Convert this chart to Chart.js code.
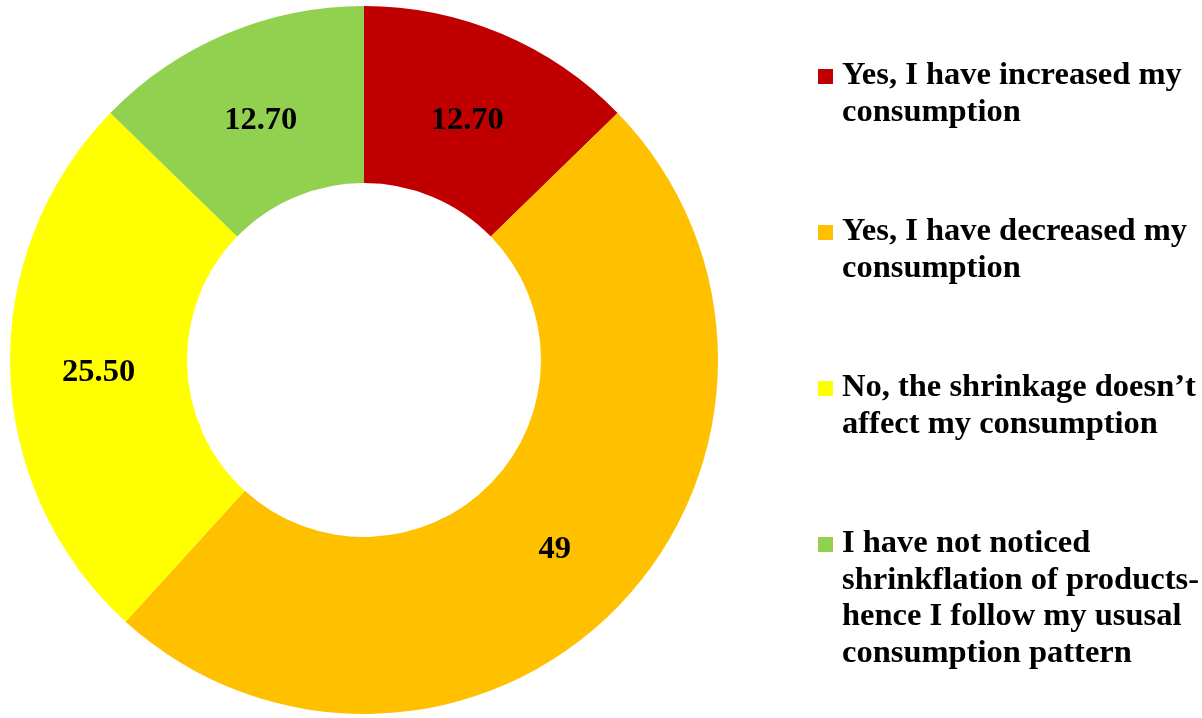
<!DOCTYPE html>
<html>
<head>
<meta charset="utf-8">
<script src="https://cdn.jsdelivr.net/npm/chart.js@4/dist/chart.umd.min.js"></script>
<style>
  html, body { margin: 0; padding: 0; background: #fff; }
  #wrap { width: 1202px; height: 718px; }
</style>
</head>
<body>
<div id="wrap"><canvas id="grafico"></canvas></div>
<script>
// datos del gráfico
const categorias = [
    ['Yes, I have increased my', 'consumption'],
    ['Yes, I have decreased my', 'consumption'],
    ['No, the shrinkage doesn\u2019t', 'affect my consumption'],
    ['I have not noticed', 'shrinkflation of products-', 'hence I follow my ususal', 'consumption pattern']
];
const valores = [12.70, 49, 25.50, 12.70];
const etiquetas = ['12.70', '49', '25.50', '12.70'];
const colores = ['#C00000', '#FFC000', '#FFFF00', '#92D050'];

const fuente = 'bold 32.5px "Liberation Serif", "Times New Roman", serif';

// etiquetas de valor dentro de cada sector
const etiquetasPlugin = {
    id: 'etiquetasValor',
    afterDatasetsDraw(chart) {
        const ctx = chart.ctx;
        const meta = chart.getDatasetMeta(0);
        ctx.save();
        ctx.font = fuente;
        ctx.fillStyle = '#000';
        ctx.textAlign = 'center';
        ctx.textBaseline = 'middle';
        meta.data.forEach((arc, i) => {
            const p = arc.tooltipPosition();
            ctx.fillText(etiquetas[i], p.x, p.y + 5);
        });
        ctx.restore();
    }
};

// leyenda a la derecha con texto en varias líneas
const leyendaPlugin = {
    id: 'leyendaDerecha',
    afterDraw(chart) {
        const ctx = chart.ctx;
        const x0 = 818;
        const base0 = 84;
        const paso = 156;
        const interlinea = 36.5;
        ctx.save();
        ctx.font = fuente;
        ctx.textAlign = 'left';
        ctx.textBaseline = 'alphabetic';
        categorias.forEach((lineas, i) => {
            const base = base0 + i * paso;
            ctx.fillStyle = colores[i];
            ctx.fillRect(x0, base - 15, 15, 15);
            ctx.fillStyle = '#000';
            lineas.forEach((t, j) => {
                ctx.fillText(t, x0 + 24, base + j * interlinea);
            });
        });
        ctx.restore();
    }
};

const ctx = document.getElementById('grafico').getContext('2d');
const grafico = new Chart(ctx, {
    type: 'doughnut',
    data: {
        labels: categorias,
        datasets: [{
            data: valores,
            backgroundColor: colores,
            borderWidth: 0
        }]
    },
    options: {
        responsive: true,
        maintainAspectRatio: false,
        animation: false,
        cutout: '50%',
        layout: {
            padding: { left: 10, top: 6, bottom: 4, right: 484 }
        },
        plugins: {
            legend: { display: false },
            tooltip: { enabled: false }
        }
    },
    plugins: [etiquetasPlugin, leyendaPlugin]
});
</script>
</body>
</html>
